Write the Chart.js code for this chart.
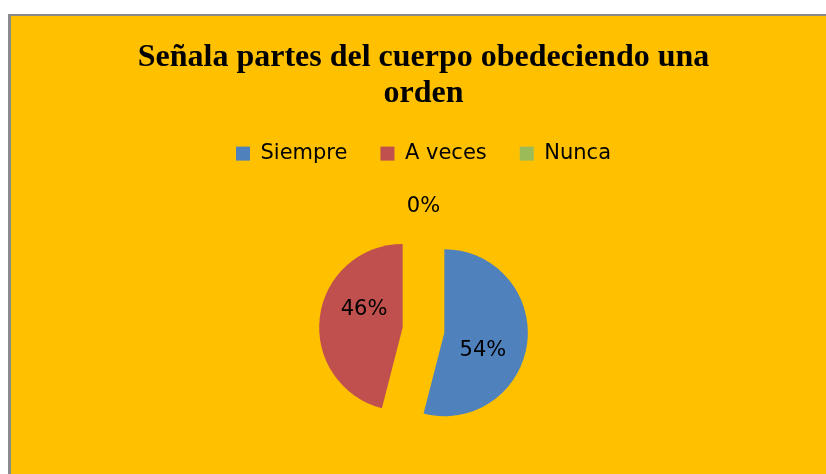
<!DOCTYPE html>
<html>
<head>
<meta charset="utf-8">
<script src="https://cdn.jsdelivr.net/npm/chart.js@4.4.1/dist/chart.umd.min.js"></script>
<style>
  html, body { margin: 0; padding: 0; background: #ffffff; width: 826px; height: 474px; overflow: hidden; }
  #frame {
    position: absolute; left: 8px; top: 14px;
    width: 830px; height: 470px;
    background: #FFC000;
    border-left: 3px solid #8a8a8a;
    border-top: 2px solid #8a8a8a;
    overflow: hidden;
  }
  #c { position: absolute; left: 0; top: 0; }
</style>
</head>
<body>
<div id="frame"><canvas id="c" width="815" height="470"></canvas></div>
<script>
// ---- data ----
const titleLines = ['Señala partes del cuerpo obedeciendo una', 'orden'];
const categories = ['Siempre', 'A veces', 'Nunca'];
const values = [54, 46, 0];
const sliceColors = ['#4F81BD', '#C0504D', '#9BBB59'];
const EXPLODE = 21;

// ---- exploded slices: draw each library arc shifted along its mid angle ----
const explodePlugin = {
  id: 'explodeSlices',
  beforeDatasetDraw(chart, args) {
    const ctx = chart.ctx;
    args.meta.data.forEach(arc => {
      const mid = (arc.startAngle + arc.endAngle) / 2;
      ctx.save();
      ctx.translate(Math.cos(mid) * EXPLODE, Math.sin(mid) * EXPLODE);
      arc.draw(ctx);
      ctx.restore();
    });
    return false;
  }
};

// ---- percentage labels plugin ----
const pctLabels = {
  id: 'pctLabels',
  afterDatasetsDraw(chart) {
    const ctx = chart.ctx;
    const meta = chart.getDatasetMeta(0);
    const data = chart.data.datasets[0].data;
    const total = data.reduce((a, b) => a + b, 0);
    ctx.save();
    ctx.font = '21px "DejaVu Sans"';
    ctx.fillStyle = '#000000';
    ctx.textAlign = 'center';
    ctx.textBaseline = 'middle';
    meta.data.forEach((arc, i) => {
      const mid = (arc.startAngle + arc.endAngle) / 2;
      const vx = arc.x + Math.cos(mid) * EXPLODE;
      const vy = arc.y + Math.sin(mid) * EXPLODE;
      const R = arc.outerRadius;
      let dist, ang;
      if (data[i] === 0) { dist = R * 1.23; ang = mid; }
      else { dist = R * 0.51; ang = mid + 0.31; }
      const txt = Math.round(data[i] / total * 100) + '%';
      ctx.fillText(txt, vx + Math.cos(ang) * dist, vy + Math.sin(ang) * dist);
    });
    ctx.restore();
  }
};

new Chart(document.getElementById('c'), {
  type: 'pie',
  data: {
    labels: categories,
    datasets: [{
      data: values,
      backgroundColor: sliceColors,
      borderWidth: 0
    }]
  },
  options: {
    responsive: false,
    animation: false,
    radius: 83.5,
    layout: { padding: { left: 10, right: 0, top: 0, bottom: 0 } },
    plugins: {
      tooltip: { enabled: false },
      title: {
        display: true,
        text: titleLines,
        color: '#000000',
        font: { family: '"Liberation Serif", "Times New Roman", serif', size: 32, weight: 'bold', lineHeight: 1.15 },
        padding: { top: 23, bottom: -2.5 }
      },
      legend: {
        display: true,
        position: 'top',
        labels: {
          color: '#000000',
          font: { family: '"DejaVu Sans", sans-serif', size: 21 },
          boxWidth: 14,
          boxHeight: 14,
          padding: 33
        }
      }
    }
  },
  plugins: [explodePlugin, pctLabels]
});
</script>
</body>
</html>
